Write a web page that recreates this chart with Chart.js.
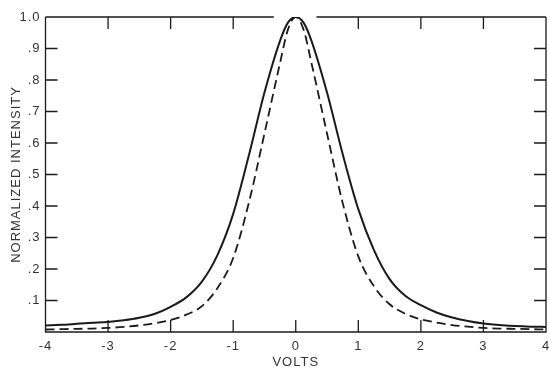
<!DOCTYPE html>
<html>
<head>
<meta charset="utf-8">
<script src="https://cdn.jsdelivr.net/npm/chart.js@4/dist/chart.umd.min.js"></script>
<style>
  html, body { margin: 0; padding: 0; background: #fff; }
  #wrap { width: 549px; height: 371px; }
</style>
</head>
<body>
<div id="wrap"><canvas id="c" width="549" height="371"></canvas></div>
<script>
// ---- data ----
const volts = [-4, -3.75, -3.5, -3.25, -3, -2.75, -2.5, -2.25, -2, -1.75, -1.5, -1.25, -1, -0.75, -0.5, -0.25, -0.125,
  0, 0.125, 0.25, 0.5, 0.75, 1, 1.25, 1.5, 1.75, 2, 2.25, 2.5, 2.75, 3, 3.25, 3.5, 3.75, 4];
const solidIntensity = [0.021, 0.023, 0.026, 0.029, 0.032, 0.037, 0.045, 0.058, 0.080, 0.110, 0.160, 0.245, 0.375, 0.560, 0.760, 0.925, 0.982,
  1.0, 0.982, 0.925, 0.760, 0.565, 0.390, 0.260, 0.168, 0.115, 0.085, 0.062, 0.046, 0.035, 0.027, 0.022, 0.019, 0.017, 0.016];
const dashedIntensity = [0.008, 0.009, 0.010, 0.011, 0.013, 0.016, 0.021, 0.028, 0.038, 0.055, 0.082, 0.140, 0.235, 0.410, 0.630, 0.855, 0.960,
  1.0, 0.960, 0.855, 0.630, 0.410, 0.240, 0.145, 0.088, 0.058, 0.040, 0.030, 0.022, 0.017, 0.013, 0.011, 0.010, 0.009, 0.008];
const xTickLabels = ['-4', '-3', '-2', '-1', '0', '1', '2', '3', '4'];
const yTickLabels = ['', '.1', '.2', '.3', '.4', '.5', '.6', '.7', '.8', '.9', '1.0'];
const xTitle = 'VOLTS';
const yTitle = 'NORMALIZED INTENSITY';

const INK = '#1a1a1a';
const TEXT = '#333';
const FONT = "'Liberation Sans', Arial, Helvetica, sans-serif";

const toPoints = ys => volts.map((v, i) => ({ x: v, y: ys[i] }));

const spacingPlugin = {
  id: 'spacing',
  beforeDraw(chart) { chart.ctx.letterSpacing = '1px'; }
};

// inside ticks + frame with a gap in the top edge where the peak reaches it
const framePlugin = {
  id: 'frame',
  afterDatasetsDraw(chart) {
    const { ctx, chartArea: a, scales: { x, y } } = chart;
    const T = 12;
    ctx.save();
    ctx.strokeStyle = INK;
    ctx.lineWidth = 1.3;
    ctx.beginPath();
    ctx.moveTo(a.left, a.top); ctx.lineTo(a.left, a.bottom);
    ctx.lineTo(a.right, a.bottom); ctx.lineTo(a.right, a.top);
    ctx.moveTo(a.left, a.top); ctx.lineTo(x.getPixelForValue(-0.35), a.top);
    ctx.moveTo(x.getPixelForValue(0.33), a.top); ctx.lineTo(a.right, a.top);
    x.ticks.forEach((t, i) => {
      const px = x.getPixelForTick(i);
      if (t.value <= -4 || t.value >= 4) return;
      ctx.moveTo(px, a.bottom); ctx.lineTo(px, a.bottom - T);
      if (t.value !== 0) { ctx.moveTo(px, a.top); ctx.lineTo(px, a.top + T); }
    });
    y.ticks.forEach((t, i) => {
      const py = y.getPixelForTick(i);
      if (t.value <= 0.001 || t.value >= 0.999) return;
      ctx.moveTo(a.left, py); ctx.lineTo(a.left + T, py);
      ctx.moveTo(a.right, py); ctx.lineTo(a.right - T, py);
    });
    ctx.stroke();
    ctx.restore();
  }
};

new Chart(document.getElementById('c'), {
  type: 'line',
  data: {
    datasets: [
      { data: toPoints(solidIntensity), borderColor: INK, borderWidth: 2, pointRadius: 0,
        cubicInterpolationMode: 'monotone', fill: false },
      { data: toPoints(dashedIntensity), borderColor: INK, borderWidth: 1.8, borderDash: [9, 5], pointRadius: 0,
        cubicInterpolationMode: 'monotone', fill: false }
    ]
  },
  options: {
    responsive: false,
    animation: false,
    devicePixelRatio: 1,
    layout: { padding: { left: 0, right: 3, top: 17, bottom: 0 } },
    plugins: { legend: { display: false }, tooltip: { enabled: false } },
    scales: {
      x: {
        type: 'linear', min: -4, max: 4,
        afterFit: s => { s.height = 39; s.paddingLeft = 0; s.paddingRight = 0; },
        grid: { display: false, drawTicks: false },
        border: { display: false },
        ticks: {
          stepSize: 1, padding: 7, color: TEXT, maxRotation: 0,
          font: { family: FONT, size: 13 },
          callback: (v) => xTickLabels[Math.round(v) + 4]
        },
        title: { display: true, text: xTitle, color: TEXT, padding: { top: 0, bottom: 1 },
          font: { family: FONT, size: 13 } }
      },
      y: {
        type: 'linear', min: 0, max: 1,
        afterFit: s => { s.width = 45.5; s.paddingTop = 0; s.paddingBottom = 0; },
        grid: { display: false, drawTicks: false },
        border: { display: false },
        ticks: {
          stepSize: 0.1, padding: 5, color: TEXT,
          font: { family: FONT, size: 13 },
          callback: (v) => yTickLabels[Math.round(v * 10)]
        },
        title: { display: true, text: yTitle, color: TEXT, padding: { top: 9, bottom: 0 },
          font: { family: FONT, size: 13 } }
      }
    }
  },
  plugins: [spacingPlugin, framePlugin]
});
</script>
</body>
</html>
